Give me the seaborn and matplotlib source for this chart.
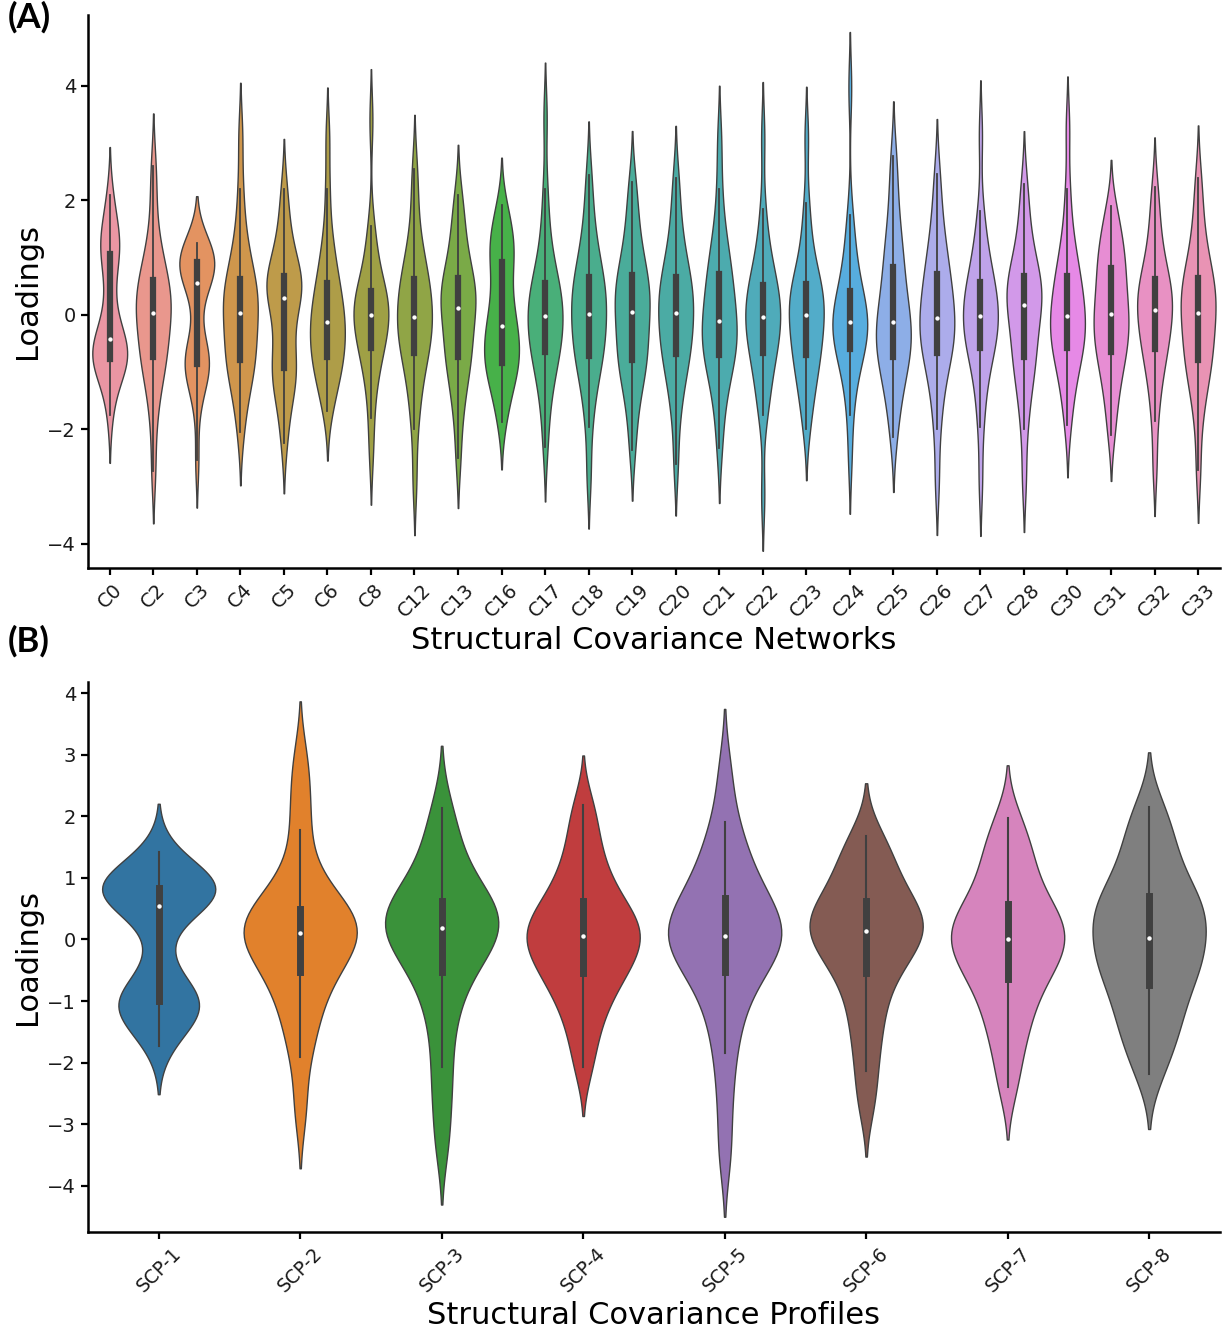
import matplotlib
matplotlib.use("Agg")
import pandas as pd
import matplotlib.pyplot as plt
import seaborn as sns

# (A) loadings per structural covariance network
network_labels = ["C0", "C2", "C3", "C4", "C5", "C6", "C8", "C12", "C13", "C16",
                  "C17", "C18", "C19", "C20", "C21", "C22", "C23", "C24", "C25",
                  "C26", "C27", "C28", "C30", "C31", "C32", "C33"]

c0 = [-1.75, -1.3, -1.05, -0.95, -0.88, -0.82, -0.77, -0.72, -0.66, -0.6, -0.55, -0.48, -0.42,
      -0.3, -0.1, 0.2, 0.55, 0.85, 1.07, 1.15, 1.25, 1.35, 1.5, 1.75, 2.1]
c2 = [-2.72, -1.9, -1.45, -1.15, -0.95, -0.83, -0.74, -0.6, -0.45, -0.3, -0.17, -0.06, 0.04,
      0.13, 0.22, 0.31, 0.41, 0.51, 0.61, 0.75, 0.92, 1.12, 1.4, 2.0, 2.6]
c3 = [-2.54, -1.6, -1.25, -1.05, -0.95, -0.9, -0.85, -0.78, -0.7, -0.6, -0.4, 0.1, 0.55,
      0.62, 0.68, 0.72, 0.78, 0.85, 0.93, 0.98, 1.03, 1.08, 1.13, 1.18, 1.25]
c4 = [-2.05, -1.6, -1.3, -1.1, -0.95, -0.85, -0.78, -0.62, -0.48, -0.35, -0.22, -0.08, 0.04,
      0.14, 0.24, 0.34, 0.44, 0.54, 0.63, 0.8, 1.0, 1.25, 1.6, 2.2, 3.13]
c5 = [-2.24, -1.75, -1.45, -1.25, -1.1, -1.0, -0.93, -0.75, -0.55, -0.35, -0.15, 0.08, 0.29,
      0.36, 0.42, 0.48, 0.54, 0.61, 0.68, 0.82, 0.98, 1.15, 1.4, 1.75, 2.2]
c6 = [-1.67, -1.4, -1.2, -1.05, -0.92, -0.82, -0.73, -0.62, -0.52, -0.42, -0.32, -0.22, -0.13,
      -0.03, 0.07, 0.17, 0.28, 0.42, 0.56, 0.72, 0.9, 1.15, 1.5, 2.2, 3.1]
c8 = [-2.42, -1.8, -1.35, -1.05, -0.85, -0.7, -0.57, -0.46, -0.36, -0.27, -0.18, -0.09, 0.0,
      0.07, 0.14, 0.21, 0.28, 0.35, 0.42, 0.55, 0.72, 0.95, 1.25, 1.55, 3.4]
c12 = [-2.9, -2.0, -1.55, -1.25, -1.0, -0.8, -0.66, -0.54, -0.43, -0.33, -0.23, -0.13, -0.03,
       0.08, 0.19, 0.3, 0.41, 0.52, 0.63, 0.78, 0.95, 1.15, 1.45, 2.0, 2.55]
c13 = [-2.5, -1.85, -1.5, -1.22, -1.0, -0.85, -0.74, -0.6, -0.46, -0.32, -0.18, -0.03, 0.12,
       0.2, 0.28, 0.36, 0.45, 0.55, 0.65, 0.8, 0.98, 1.2, 1.45, 1.75, 2.1]
c16 = [-1.87, -1.55, -1.3, -1.12, -1.0, -0.92, -0.84, -0.72, -0.6, -0.5, -0.4, -0.3, -0.19,
       -0.05, 0.1, 0.28, 0.48, 0.7, 0.93, 1.05, 1.18, 1.3, 1.45, 1.65, 1.92]
c17 = [-2.3, -1.7, -1.35, -1.1, -0.9, -0.75, -0.64, -0.53, -0.43, -0.33, -0.23, -0.12, -0.02,
       0.08, 0.18, 0.27, 0.36, 0.46, 0.56, 0.72, 0.92, 1.2, 1.6, 2.2, 3.45]
c18 = [-2.8, -1.95, -1.5, -1.2, -0.98, -0.82, -0.71, -0.58, -0.46, -0.34, -0.22, -0.1, 0.02,
       0.13, 0.24, 0.35, 0.46, 0.56, 0.67, 0.82, 1.0, 1.22, 1.5, 1.9, 2.45]
c19 = [-2.35, -1.8, -1.45, -1.2, -1.0, -0.88, -0.79, -0.64, -0.5, -0.36, -0.22, -0.08, 0.05,
       0.16, 0.27, 0.38, 0.48, 0.59, 0.7, 0.86, 1.04, 1.26, 1.55, 1.9, 2.32]
c20 = [-2.6, -1.85, -1.45, -1.18, -0.97, -0.81, -0.69, -0.56, -0.44, -0.32, -0.2, -0.08, 0.03,
       0.14, 0.25, 0.35, 0.46, 0.56, 0.67, 0.82, 1.0, 1.22, 1.5, 1.9, 2.4]
c21 = [-2.33, -1.75, -1.4, -1.15, -0.96, -0.81, -0.7, -0.6, -0.5, -0.4, -0.3, -0.2, -0.1,
       0.03, 0.16, 0.3, 0.44, 0.58, 0.72, 0.88, 1.06, 1.3, 1.6, 2.2, 3.05]
c22 = [-3.15, -1.75, -1.5, -1.25, -1.0, -0.8, -0.66, -0.55, -0.45, -0.35, -0.25, -0.14, -0.04,
       0.06, 0.15, 0.24, 0.33, 0.42, 0.52, 0.66, 0.84, 1.05, 1.35, 1.85, 3.1]
c23 = [-2.0, -1.6, -1.35, -1.15, -0.97, -0.82, -0.7, -0.58, -0.46, -0.35, -0.24, -0.12, 0.0,
       0.09, 0.18, 0.27, 0.36, 0.45, 0.54, 0.68, 0.86, 1.1, 1.45, 1.95, 3.1]
c24 = [-2.5, -1.75, -1.35, -1.05, -0.85, -0.7, -0.6, -0.5, -0.42, -0.34, -0.27, -0.2, -0.13,
       -0.05, 0.03, 0.11, 0.2, 0.3, 0.42, 0.58, 0.8, 1.05, 1.35, 1.75, 3.97]
c25 = [-2.14, -1.7, -1.4, -1.18, -1.0, -0.86, -0.74, -0.62, -0.52, -0.42, -0.32, -0.22, -0.13,
       0.0, 0.14, 0.28, 0.43, 0.62, 0.84, 1.0, 1.2, 1.45, 1.8, 2.25, 2.78]
c26 = [-2.89, -2.0, -1.55, -1.22, -0.98, -0.8, -0.66, -0.55, -0.45, -0.35, -0.25, -0.15, -0.05,
       0.07, 0.19, 0.31, 0.44, 0.58, 0.72, 0.88, 1.06, 1.28, 1.55, 1.95, 2.47]
c27 = [-2.9, -1.95, -1.5, -1.15, -0.9, -0.72, -0.58, -0.48, -0.38, -0.29, -0.2, -0.11, -0.02,
       0.08, 0.18, 0.28, 0.38, 0.47, 0.57, 0.72, 0.9, 1.12, 1.4, 1.82, 3.14]
c28 = [-2.86, -2.0, -1.55, -1.25, -1.02, -0.86, -0.73, -0.57, -0.41, -0.25, -0.1, 0.04, 0.18,
       0.26, 0.34, 0.42, 0.5, 0.59, 0.68, 0.83, 1.0, 1.2, 1.47, 1.85, 2.28]
c30 = [-1.93, -1.5, -1.22, -1.0, -0.84, -0.7, -0.58, -0.48, -0.39, -0.3, -0.21, -0.12, -0.02,
       0.09, 0.2, 0.32, 0.44, 0.56, 0.68, 0.84, 1.02, 1.25, 1.6, 2.2, 3.26]
c31 = [-2.09, -1.65, -1.35, -1.12, -0.93, -0.77, -0.64, -0.52, -0.41, -0.3, -0.19, -0.08, 0.02,
       0.14, 0.26, 0.39, 0.53, 0.67, 0.82, 0.95, 1.08, 1.23, 1.4, 1.62, 1.9]
c32 = [-2.64, -1.85, -1.42, -1.12, -0.9, -0.73, -0.6, -0.47, -0.35, -0.23, -0.12, -0.01, 0.09,
       0.18, 0.27, 0.36, 0.45, 0.54, 0.63, 0.78, 0.96, 1.18, 1.45, 1.8, 2.23]
c33 = [-2.71, -1.9, -1.5, -1.22, -1.02, -0.88, -0.78, -0.63, -0.49, -0.35, -0.22, -0.09, 0.04,
       0.14, 0.24, 0.34, 0.44, 0.55, 0.65, 0.8, 0.98, 1.2, 1.5, 1.9, 2.39]

network_loadings = [c0, c2, c3, c4, c5, c6, c8, c12, c13, c16, c17, c18, c19, c20, c21,
                    c22, c23, c24, c25, c26, c27, c28, c30, c31, c32, c33]

# (B) loadings per structural covariance profile
profile_labels = ["SCP-1", "SCP-2", "SCP-3", "SCP-4", "SCP-5", "SCP-6", "SCP-7", "SCP-8"]

scp1 = [-1.73, -1.45, -1.3, -1.2, -1.12, -1.05, -1.0, -0.93, -0.85, -0.7, -0.3, 0.2, 0.55,
        0.62, 0.67, 0.71, 0.75, 0.79, 0.83, 0.87, 0.92, 0.98, 1.05, 1.18, 1.42]
scp2 = [-2.75, -1.91, -1.5, -1.2, -0.95, -0.72, -0.53, -0.4, -0.28, -0.17, -0.07, 0.02, 0.1,
        0.17, 0.24, 0.31, 0.37, 0.43, 0.5, 0.68, 0.9, 1.2, 1.77, 2.3, 2.9]
scp3 = [-3.3, -2.6, -2.07, -1.5, -1.1, -0.8, -0.53, -0.38, -0.24, -0.12, -0.01, 0.09, 0.18,
        0.25, 0.32, 0.39, 0.46, 0.54, 0.62, 0.76, 0.94, 1.15, 1.42, 1.75, 2.14]
scp4 = [-2.07, -1.6, -1.28, -1.03, -0.83, -0.68, -0.55, -0.43, -0.32, -0.22, -0.12, -0.03, 0.05,
        0.13, 0.21, 0.29, 0.38, 0.5, 0.62, 0.78, 0.96, 1.18, 1.45, 1.8, 2.19]
scp5 = [-3.45, -2.55, -1.85, -1.4, -1.05, -0.78, -0.53, -0.4, -0.28, -0.17, -0.07, 0.0, 0.06,
        0.14, 0.23, 0.33, 0.44, 0.56, 0.68, 0.86, 1.06, 1.3, 1.58, 1.9, 2.69]
scp6 = [-2.67, -2.14, -1.7, -1.35, -1.05, -0.78, -0.55, -0.4, -0.27, -0.15, -0.04, 0.05, 0.13,
        0.2, 0.27, 0.34, 0.42, 0.52, 0.63, 0.76, 0.92, 1.1, 1.3, 1.5, 1.68]
scp7 = [-2.4, -1.9, -1.55, -1.28, -1.05, -0.84, -0.65, -0.52, -0.4, -0.29, -0.18, -0.09, 0.0,
        0.09, 0.18, 0.28, 0.38, 0.48, 0.58, 0.78, 0.98, 1.2, 1.4, 1.65, 1.98]
scp8 = [-2.19, -1.82, -1.56, -1.35, -1.15, -0.95, -0.74, -0.6, -0.47, -0.35, -0.23, -0.11, 0.02,
        0.15, 0.28, 0.4, 0.5, 0.6, 0.7, 0.88, 1.08, 1.3, 1.55, 1.85, 2.15]

profile_loadings = [scp1, scp2, scp3, scp4, scp5, scp6, scp7, scp8]


def to_long(labels, samples):
    rows = [(lab, v) for lab, vals in zip(labels, samples) for v in vals]
    return pd.DataFrame(rows, columns=["group", "loading"])


def style_axis(ax, xlabel, tick_size_x):
    sns.despine(ax=ax)
    for side in ["left", "bottom"]:
        ax.spines[side].set_linewidth(1.8)
        ax.spines[side].set_color("black")
    ax.tick_params(axis="both", length=5, width=1.6, color="black", labelcolor="#1a1a1a")
    ax.tick_params(axis="y", labelsize=14)
    ax.tick_params(axis="x", labelsize=tick_size_x, labelrotation=45)
    ax.set_xlabel(xlabel, fontsize=22)
    ax.set_ylabel("Loadings", fontsize=22)


df_a = to_long(network_labels, network_loadings)
df_b = to_long(profile_labels, profile_loadings)

fig = plt.figure(figsize=(12.25, 13.35), dpi=100)
ax_a = fig.add_axes([0.0718, 0.5745, 0.924, 0.4143])
ax_b = fig.add_axes([0.0718, 0.0772, 0.924, 0.4119])

violin_kws = dict(x="group", y="loading", hue="group", legend=False, saturation=0.75,
                  linewidth=1, linecolor=".25", bw_adjust=0.74, cut=2, inner="box")

sns.violinplot(data=df_a, palette=sns.husl_palette(len(network_labels), l=.7),
               inner_kws=dict(box_width=4.5, whis_width=1.3, marker="o", markersize=2.2),
               ax=ax_a, **violin_kws)
ax_a.set_ylim(-4.42, 5.24)
ax_a.set_yticks([-4, -2, 0, 2, 4])
style_axis(ax_a, "Structural Covariance Networks", 14)

sns.violinplot(data=df_b, palette="tab10",
               inner_kws=dict(box_width=5, whis_width=1.5, marker="o", markersize=2.2),
               ax=ax_b, **violin_kws)
ax_b.set_ylim(-4.75, 4.18)
ax_b.set_yticks([-4, -3, -2, -1, 0, 1, 2, 3, 4])
style_axis(ax_b, "Structural Covariance Profiles", 13.5)

fig.text(0.006, 0.999, "(A)", fontsize=25, fontweight="bold", family="Lato", va="top")
fig.text(0.006, 0.532, "(B)", fontsize=25, fontweight="bold", family="Lato", va="top")

fig.savefig("out.png", dpi=100)
